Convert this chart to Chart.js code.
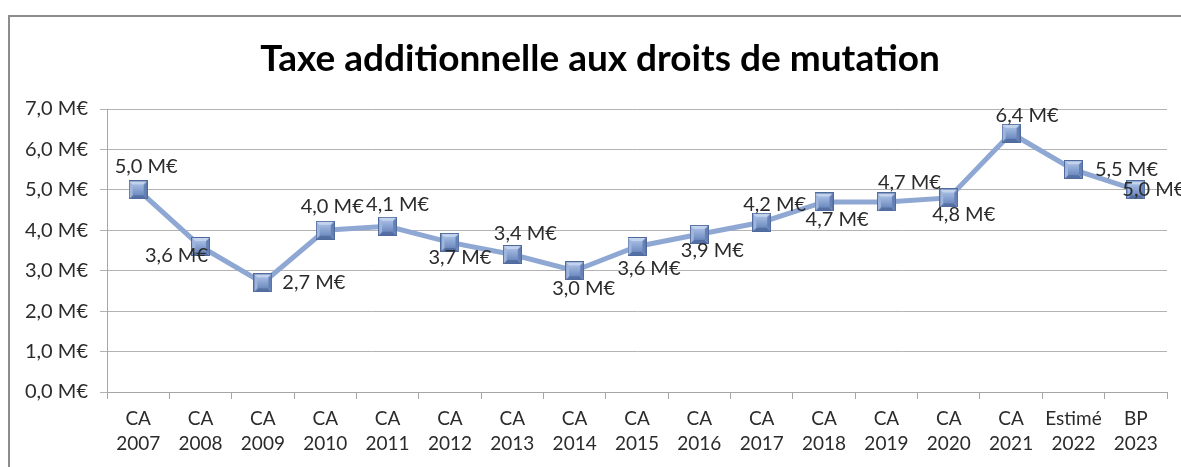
<!DOCTYPE html>
<html>
<head>
<meta charset="utf-8">
<script src="https://cdn.jsdelivr.net/npm/chart.js@4/dist/chart.umd.min.js"></script>
<style>
  html, body { margin: 0; padding: 0; background: #fff; overflow: hidden; }
  #wrap { position: absolute; left: 0; top: 0; width: 1181px; height: 467px; }
</style>
</head>
<body>
<div id="wrap"><canvas id="chart" width="1181" height="467"></canvas></div>
<script>
// données
const categories = [
    ["CA", "2007"], ["CA", "2008"], ["CA", "2009"], ["CA", "2010"], ["CA", "2011"],
    ["CA", "2012"], ["CA", "2013"], ["CA", "2014"], ["CA", "2015"], ["CA", "2016"],
    ["CA", "2017"], ["CA", "2018"], ["CA", "2019"], ["CA", "2020"], ["CA", "2021"],
    ["Estimé", "2022"], ["BP", "2023"]
];
const valeurs = [5.0, 3.6, 2.7, 4.0, 4.1, 3.7, 3.4, 3.0, 3.6, 3.9, 4.2, 4.7, 4.7, 4.8, 6.4, 5.5, 5.0];
const yTicks = [0, 1, 2, 3, 4, 5, 6, 7];
const titre = "Taxe additionnelle aux droits de mutation";

// décalage des étiquettes par rapport au point (comme dans Excel)
const labelOffsets = [
    [8, -23], [-24, 9], [51, 0], [7, -24], [10, -22], [10, 15], [13, -21], [9, 18],
    [12, 22], [13, 16], [13, -18], [13, 18], [23, -19], [15, 17], [16, -18], [53, 0], [18, 0]
];

const FONT = "Lato, 'Open Sans', sans-serif";
const TEXT = "#2b2b2b";

const fmt = (v) => v.toFixed(1).replace(".", ",") + " M€";

// marqueur carré biseauté
function makeMarker(size) {
    const c = document.createElement("canvas");
    c.width = size; c.height = size;
    const g = c.getContext("2d");
    const b = 4;
    const s = size;
    const poly = (pts, col) => {
        g.beginPath();
        g.moveTo(pts[0][0], pts[0][1]);
        pts.slice(1).forEach(p => g.lineTo(p[0], p[1]));
        g.closePath();
        g.fillStyle = col;
        g.fill();
    };
    poly([[0, 0], [s, 0], [s - b, b], [b, b]], "#c3d3ee");
    poly([[0, 0], [b, b], [b, s - b], [0, s]], "#9fb5dc");
    poly([[s, 0], [s, s], [s - b, s - b], [s - b, b]], "#6681b5");
    poly([[0, s], [b, s - b], [s - b, s - b], [s, s]], "#536fa3");
    const grad = g.createLinearGradient(0, b, 0, s - b);
    grad.addColorStop(0, "#a4bbe2");
    grad.addColorStop(1, "#6e8bc0");
    g.fillStyle = grad;
    g.fillRect(b, b, s - 2 * b, s - 2 * b);
    g.strokeStyle = "#4f6a9c";
    g.lineWidth = 1;
    g.strokeRect(0.5, 0.5, s - 1, s - 1);
    return c;
}
const marker = makeMarker(19);

// cadre + titre
const titlePlugin = {
    id: "titreExcel",
    beforeDraw(chart) {
        const ctx = chart.ctx;
        ctx.save();
        ctx.strokeStyle = "#8c8c8c";
        ctx.lineWidth = 2;
        ctx.beginPath();
        ctx.moveTo(9, chart.height + 5);
        ctx.lineTo(9, 16);
        ctx.lineTo(chart.width + 5, 16);
        ctx.stroke();
        ctx.restore();
    },
    afterDraw(chart) {
        const ctx = chart.ctx;
        ctx.save();
        ctx.font = "bold 37px " + FONT;
        ctx.fillStyle = "#000";
        ctx.textAlign = "center";
        ctx.textBaseline = "middle";
        ctx.fillText(titre, 600, 59);
        ctx.restore();
    }
};

const labelsPlugin = {
    id: "etiquettes",
    afterDatasetsDraw(chart) {
        const ctx = chart.ctx;
        const meta = chart.getDatasetMeta(0);
        ctx.save();
        ctx.font = "20px " + FONT;
        ctx.fillStyle = TEXT;
        ctx.textAlign = "center";
        ctx.textBaseline = "middle";
        meta.data.forEach((pt, i) => {
            const o = labelOffsets[i];
            ctx.fillText(fmt(valeurs[i]), pt.x + o[0], pt.y + o[1]);
        });
        ctx.restore();
    }
};

new Chart(document.getElementById("chart"), {
    type: "line",
    data: {
        labels: categories,
        datasets: [{
            data: valeurs,
            borderColor: "#8fa7d3",
            borderWidth: 5,
            pointStyle: marker,
            pointRadius: 9,
            tension: 0
        }]
    },
    options: {
        responsive: false,
        animation: false,
        layout: { padding: { top: 109, right: 11, left: 0, bottom: 0 } },
        plugins: {
            legend: { display: false },
            tooltip: { enabled: false },
            title: { display: false }
        },
        scales: {
            x: {
                offset: true,
                grid: {
                    offset: true,
                    drawOnChartArea: false,
                    drawTicks: true,
                    tickLength: 7,
                    color: "#a6a6a6"
                },
                border: { color: "#a6a6a6" },
                ticks: {
                    color: TEXT,
                    font: { family: FONT, size: 19, lineHeight: 1.3 },
                    padding: 8,
                    maxRotation: 0,
                    autoSkip: false
                },
                afterFit(scale) { scale.height = 75; }
            },
            y: {
                min: 0,
                max: 7,
                afterBuildTicks(scale) { scale.ticks = yTicks.map(v => ({ value: v })); },
                grid: { color: "#b3b3b3", tickLength: 7 },
                border: { color: "#a6a6a6" },
                ticks: {
                    color: TEXT,
                    font: { family: FONT, size: 20 },
                    padding: 12,
                    callback: (v) => fmt(v)
                },
                afterFit(scale) { scale.width = 107; }
            }
        }
    },
    plugins: [titlePlugin, labelsPlugin]
});
</script>
</body>
</html>
